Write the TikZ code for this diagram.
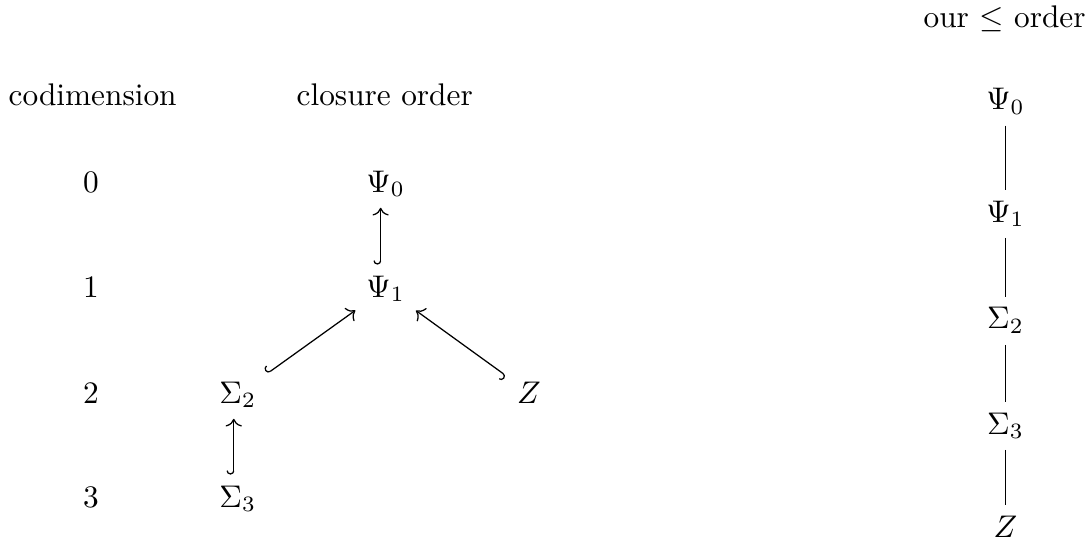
\documentclass[tikz,border=0pt]{standalone}
\usepackage{amsmath,amssymb}
\usepackage{tikz}
\usetikzlibrary{arrows.meta,positioning}
\tikzset{
  heading/.style={anchor=base, inner sep=1pt},
  stratum/.style={anchor=base},
  incl/.style={{Hooks[right]}-{To}},
  cover/.style={thin},
}

\begin{document}
\begin{tikzpicture}
  \useasboundingbox (0,0) rectangle (12.25,-6.108);
  % headings
  \node[heading] (hcod) at (1.04,-1.19) {codimension};
  \node[heading] (hclo) at (4.32,-1.19) {closure order};
  \node[heading] (hour) at (11.28,-0.31) {our $\le$ order};
  % codimension column
  \node[stratum] (c0) at (1.02,-2.156) {$0$};
  \node[stratum] (c1) at (1.02,-3.335) {$1$};
  \node[stratum] (c2) at (1.02,-4.525) {$2$};
  \node[stratum] (c3) at (1.02,-5.693) {$3$};
  % closure order
  \node[stratum] (psi0) at (4.33,-2.156) {$\Psi_0$};
  \node[stratum] (psi1) at (4.33,-3.335) {$\Psi_1$};
  \node[stratum] (sig2) at (2.67,-4.525) {$\Sigma_2$};
  \node[stratum] (sig3) at (2.67,-5.693) {$\Sigma_3$};
  \node[stratum] (zz) at (5.94,-4.525) {$Z$};
  \draw[incl] ([xshift=-1.6pt]psi1.north) -- ([xshift=-1.6pt]psi0.south);
  \draw[incl] (sig2) -- (psi1);
  \draw[incl] (zz) -- (psi1);
  \draw[incl] ([xshift=-1.3pt]sig3.north) -- ([xshift=-1.3pt]sig2.south);
  % our order
  \node[stratum] (rpsi0) at (11.29,-1.235) {$\Psi_0$};
  \node[stratum] (rpsi1) at (11.29,-2.493) {$\Psi_1$};
  \node[stratum] (rsig2) at (11.29,-3.694) {$\Sigma_2$};
  \node[stratum] (rsig3) at (11.29,-4.873) {$\Sigma_3$};
  \node[stratum] (rzz) at (11.29,-6.030) {$Z$};
  \draw[cover] (rpsi0) -- (rpsi1) -- (rsig2) -- (rsig3) -- (rzz);
\end{tikzpicture}
\end{document}
